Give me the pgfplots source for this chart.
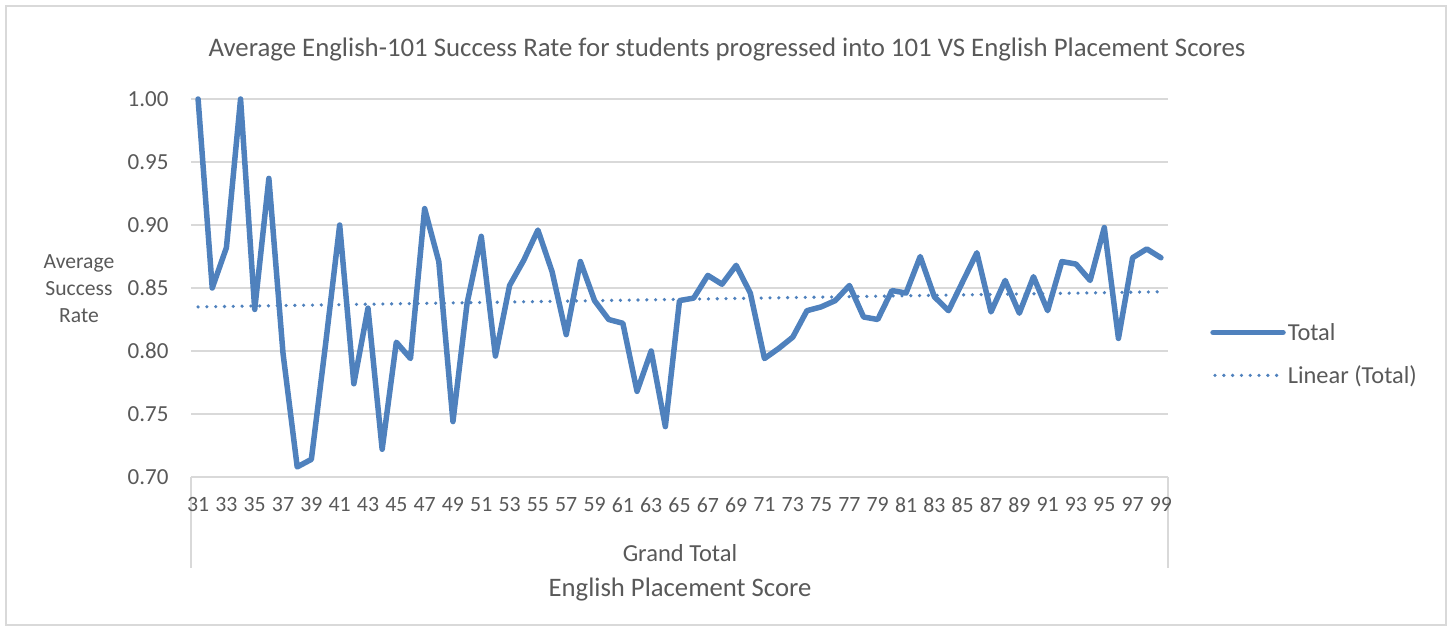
\documentclass[border=0pt]{standalone}
\usepackage{pgfplots}
\pgfplotsset{compat=1.18}
\usepackage{fontspec}
\setmainfont{Carlito}
\definecolor{xblue}{HTML}{4F81BD}
\definecolor{xgrid}{HTML}{D9D9D9}
\definecolor{xtext}{HTML}{595959}
\pgfplotsset{
  mylegthick/.style={legend image code/.code={\draw[##1, line cap=round] (0pt,0pt) -- (70pt,0pt);}},
  mylegdot/.style={legend image code/.code={\draw[##1] (2pt,0pt) -- (66pt,0pt);}},
}
\begin{document}
\begin{tikzpicture}[x=1pt,y=1pt]
\useasboundingbox (0,0) rectangle (1450,630);
\draw[xgrid, line width=1.2pt] (6,5) rectangle (1446,624);
\node[xtext, font=\fontsize{26.8}{30}\selectfont] at (727,580) {Average English-101 Success Rate for students progressed into 101 VS English Placement Scores};
\node[xtext, font=\fontsize{21.6}{27}\selectfont, align=center] at (79,341) {Average\\Success\\Rate};
\node[xtext, font=\fontsize{24.5}{28}\selectfont] at (680,77) {Grand Total};
\node[xtext, font=\fontsize{26.7}{30}\selectfont] at (680,40) {English Placement Score};
\draw[xgrid, line width=1.2pt] (191,153) -- (191,62);
\draw[xgrid, line width=1.2pt] (1168,153) -- (1168,62);
\begin{axis}[
  at={(191pt,153pt)}, anchor=south west,
  scale only axis, width=977pt, height=378pt,
  xmin=30.5, xmax=99.5, ymin=0.7, ymax=1.0,
  xtick={31,33,...,99},
  ytick={0.70,0.75,0.80,0.85,0.90,0.95,1.00},
  yticklabel style={/pgf/number format/fixed, /pgf/number format/precision=2, /pgf/number format/fixed zerofill},
  /pgf/number format/assume math mode=true,
  ymajorgrids, grid style={xgrid, line width=1.2pt},
  axis x line*=bottom, axis y line*=left,
  x axis line style={xgrid, line width=1.2pt},
  y axis line style={draw=none},
  major tick length=0pt,
  tick label style={xtext},
  xticklabel style={yshift=-17pt, font=\fontsize{21.8}{25}\selectfont},
  yticklabel style={xshift=-19pt, font=\fontsize{23}{26}\selectfont},
  clip=false,
  legend style={at={(1.040,0.325)}, anchor=west, draw=none, fill=none,
    font=\fontsize{24.4}{28}\selectfont, text=xtext, row sep=20pt,
    /tikz/every even column/.append style={column sep=6pt}},
  legend cell align=left,
]
\addplot[xblue, line width=5.5pt, line join=round, line cap=round, mylegthick] coordinates {
(31,1.000) (32,0.850) (33,0.882) (34,1.000) (35,0.833) (36,0.937) (37,0.798) (38,0.708)
(39,0.714) (40,0.805) (41,0.900) (42,0.774) (43,0.834) (44,0.722) (45,0.807) (46,0.794)
(47,0.913) (48,0.871) (49,0.744) (50,0.838) (51,0.891) (52,0.796) (53,0.852) (54,0.872)
(55,0.896) (56,0.863) (57,0.813) (58,0.871) (59,0.840) (60,0.825) (61,0.822) (62,0.768)
(63,0.800) (64,0.740) (65,0.840) (66,0.842) (67,0.860) (68,0.853) (69,0.868) (70,0.846)
(71,0.794) (72,0.802) (73,0.811) (74,0.832) (75,0.835) (76,0.840) (77,0.852) (78,0.827)
(79,0.825) (80,0.848) (81,0.846) (82,0.875) (83,0.843) (84,0.832) (85,0.855) (86,0.878)
(87,0.831) (88,0.856) (89,0.830) (90,0.859) (91,0.832) (92,0.871) (93,0.869) (94,0.856)
(95,0.898) (96,0.810) (97,0.874) (98,0.881) (99,0.874)
};
\addlegendentry{Total}
\addplot[xblue, line width=3.6pt, line cap=round, dash pattern=on 0pt off 8.8pt, mylegdot] coordinates {
(31,0.835) (99,0.847)
};
\addlegendentry{Linear (Total)}
\end{axis}
\end{tikzpicture}
\end{document}
